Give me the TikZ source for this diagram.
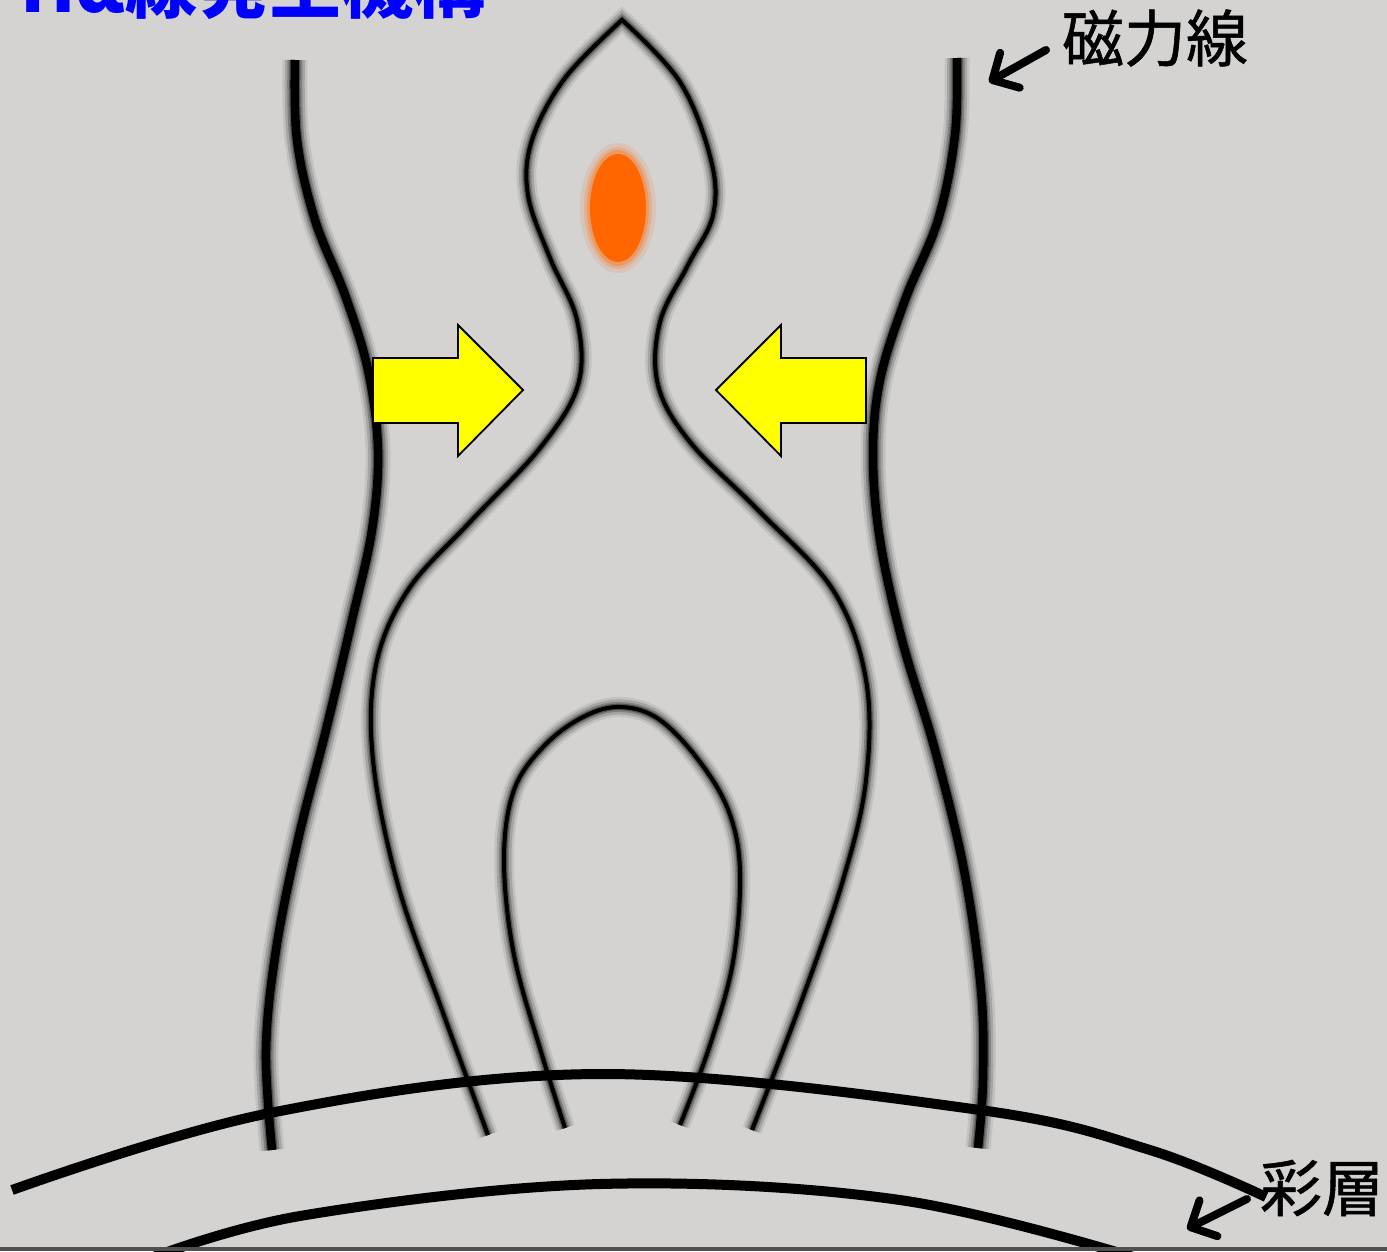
\documentclass[tikz,border=0pt]{standalone}
\usepackage{fontspec}
\newfontfamily\cjk{Noto Sans CJK JP}
\newfontfamily\cjklabel{Noto Sans CJK JP}[FakeBold=0.8]
\usetikzlibrary{arrows.meta}

\definecolor{bggray}{RGB}{212,211,210}
\definecolor{edgegray}{RGB}{80,80,80}
\definecolor{titleblue}{RGB}{0,0,255}
\definecolor{plasma}{RGB}{255,102,0}
\definecolor{pushyellow}{RGB}{255,255,0}

\begin{document}
\begin{tikzpicture}[x=1pt,y=-1pt,
    fieldthick/.style={line width=8.5pt,
      preaction={draw=black,opacity=.08,line width=25pt},
      preaction={draw=black,opacity=.15,line width=20pt},
      preaction={draw=black,opacity=.22,line width=15pt},
      preaction={draw=black,opacity=.35,line width=11pt}},
    fieldthin/.style={line width=4pt,
      preaction={draw=black,opacity=.08,line width=20pt},
      preaction={draw=black,opacity=.15,line width=15pt},
      preaction={draw=black,opacity=.22,line width=10pt},
      preaction={draw=black,opacity=.35,line width=6.5pt}},
    surface/.style={line width=10pt},
    push/.style={fill=pushyellow,draw=black,line width=1.8pt,line join=miter},
    labelarrow/.style={line width=8pt,line cap=round,-{Straight Barb[length=20pt,width=40pt,round]}},
    label/.style={font=\cjklabel\fontsize{62}{62}\selectfont,inner sep=0pt}]
  \useasboundingbox (0,0) rectangle (1387,1251);
  \clip (0,0) rectangle (1387,1251);
  \fill[bggray] (0,0) rectangle (1387,1251);

  % outer field lines
  \draw[fieldthick] plot[smooth,tension=.6] coordinates {(295,60) (297,140) (315,220) (345,295)
    (368,370) (378,450) (372,530) (352,620) (326,730) (298,840) (276,950) (266,1050) (272,1150)};
  \draw[fieldthick] plot[smooth,tension=.6] coordinates {(957,58) (955,135) (938,220) (905,300)
    (880,380) (873,455) (880,540) (902,640) (935,750) (964,870) (981,990) (983,1080) (978,1148)};

  % pinched line with the cusp on top
  \draw[fieldthin,line join=miter] plot[smooth,tension=.6] coordinates {(488,1135) (442,1010)
    (398,885) (373,760) (376,665) (408,590) (470,522) (540,448) (578,385) (577,320) (550,258)
    (528,195) (532,140) (565,78) (622,20)}
    -- plot[smooth,tension=.6] coordinates {(622,20) (680,82) (711,160) (713,215) (688,265)
    (660,322) (658,385) (690,442) (758,510) (833,590) (866,680) (866,780) (843,880) (800,1005)
    (752,1130)};

  % inner closed loop
  \draw[fieldthin] plot[smooth,tension=.6] coordinates {(565,1128) (542,1055) (514,955)
    (504,860) (514,790) (545,745) (585,716) (622,707) (660,720) (700,762) (729,812) (740,872)
    (733,962) (709,1048) (680,1125)};

  % plasmoid
  \fill[plasma,opacity=.12] (618,208) ellipse (38 and 65);
  \fill[plasma,opacity=.2] (618,208) ellipse (34 and 61);
  \fill[plasma,opacity=.3] (618,208) ellipse (31 and 58);
  \fill[plasma] (618,208) ellipse (28 and 54);

  % inflow arrows
  \draw[push] (373,358) -- (458,358) -- (458,325) -- (523,390) -- (458,456) -- (458,423)
    -- (373,423) -- cycle;
  \draw[push] (866,358) -- (781,358) -- (781,325) -- (716,390) -- (781,456) -- (781,423)
    -- (866,423) -- cycle;

  % chromosphere
  \draw[surface] plot[smooth,tension=.6] coordinates {(12,1190) (270,1113) (600,1074) (980,1110)
    (1150,1150) (1266,1197)};
  \draw[surface] plot[smooth,tension=.6] coordinates {(140,1262) (300,1216) (600,1184)
    (900,1200) (1150,1262)};
  \fill[edgegray] (0,1247) rectangle (1387,1251);

  % labels
  \node[anchor=base west,inner sep=0pt,text=titleblue,
    font=\cjk\bfseries\fontsize{72}{72}\selectfont] (title) at (20,12) {Hα線発生機構};
  \node[label] (fieldlabel) at (1155,38) {磁力線};
  \node[label] (chromolabel) at (1322,1188) {彩層};
  \coordinate (fieldtail) at (1046,50);
  \coordinate (fieldtip) at (989,82);
  \coordinate (chromotail) at (1247,1199);
  \coordinate (chromotip) at (1187,1229);
  \draw[labelarrow] (fieldtail) -- (fieldtip);
  \draw[labelarrow] (chromotail) -- (chromotip);
\end{tikzpicture}
\end{document}
